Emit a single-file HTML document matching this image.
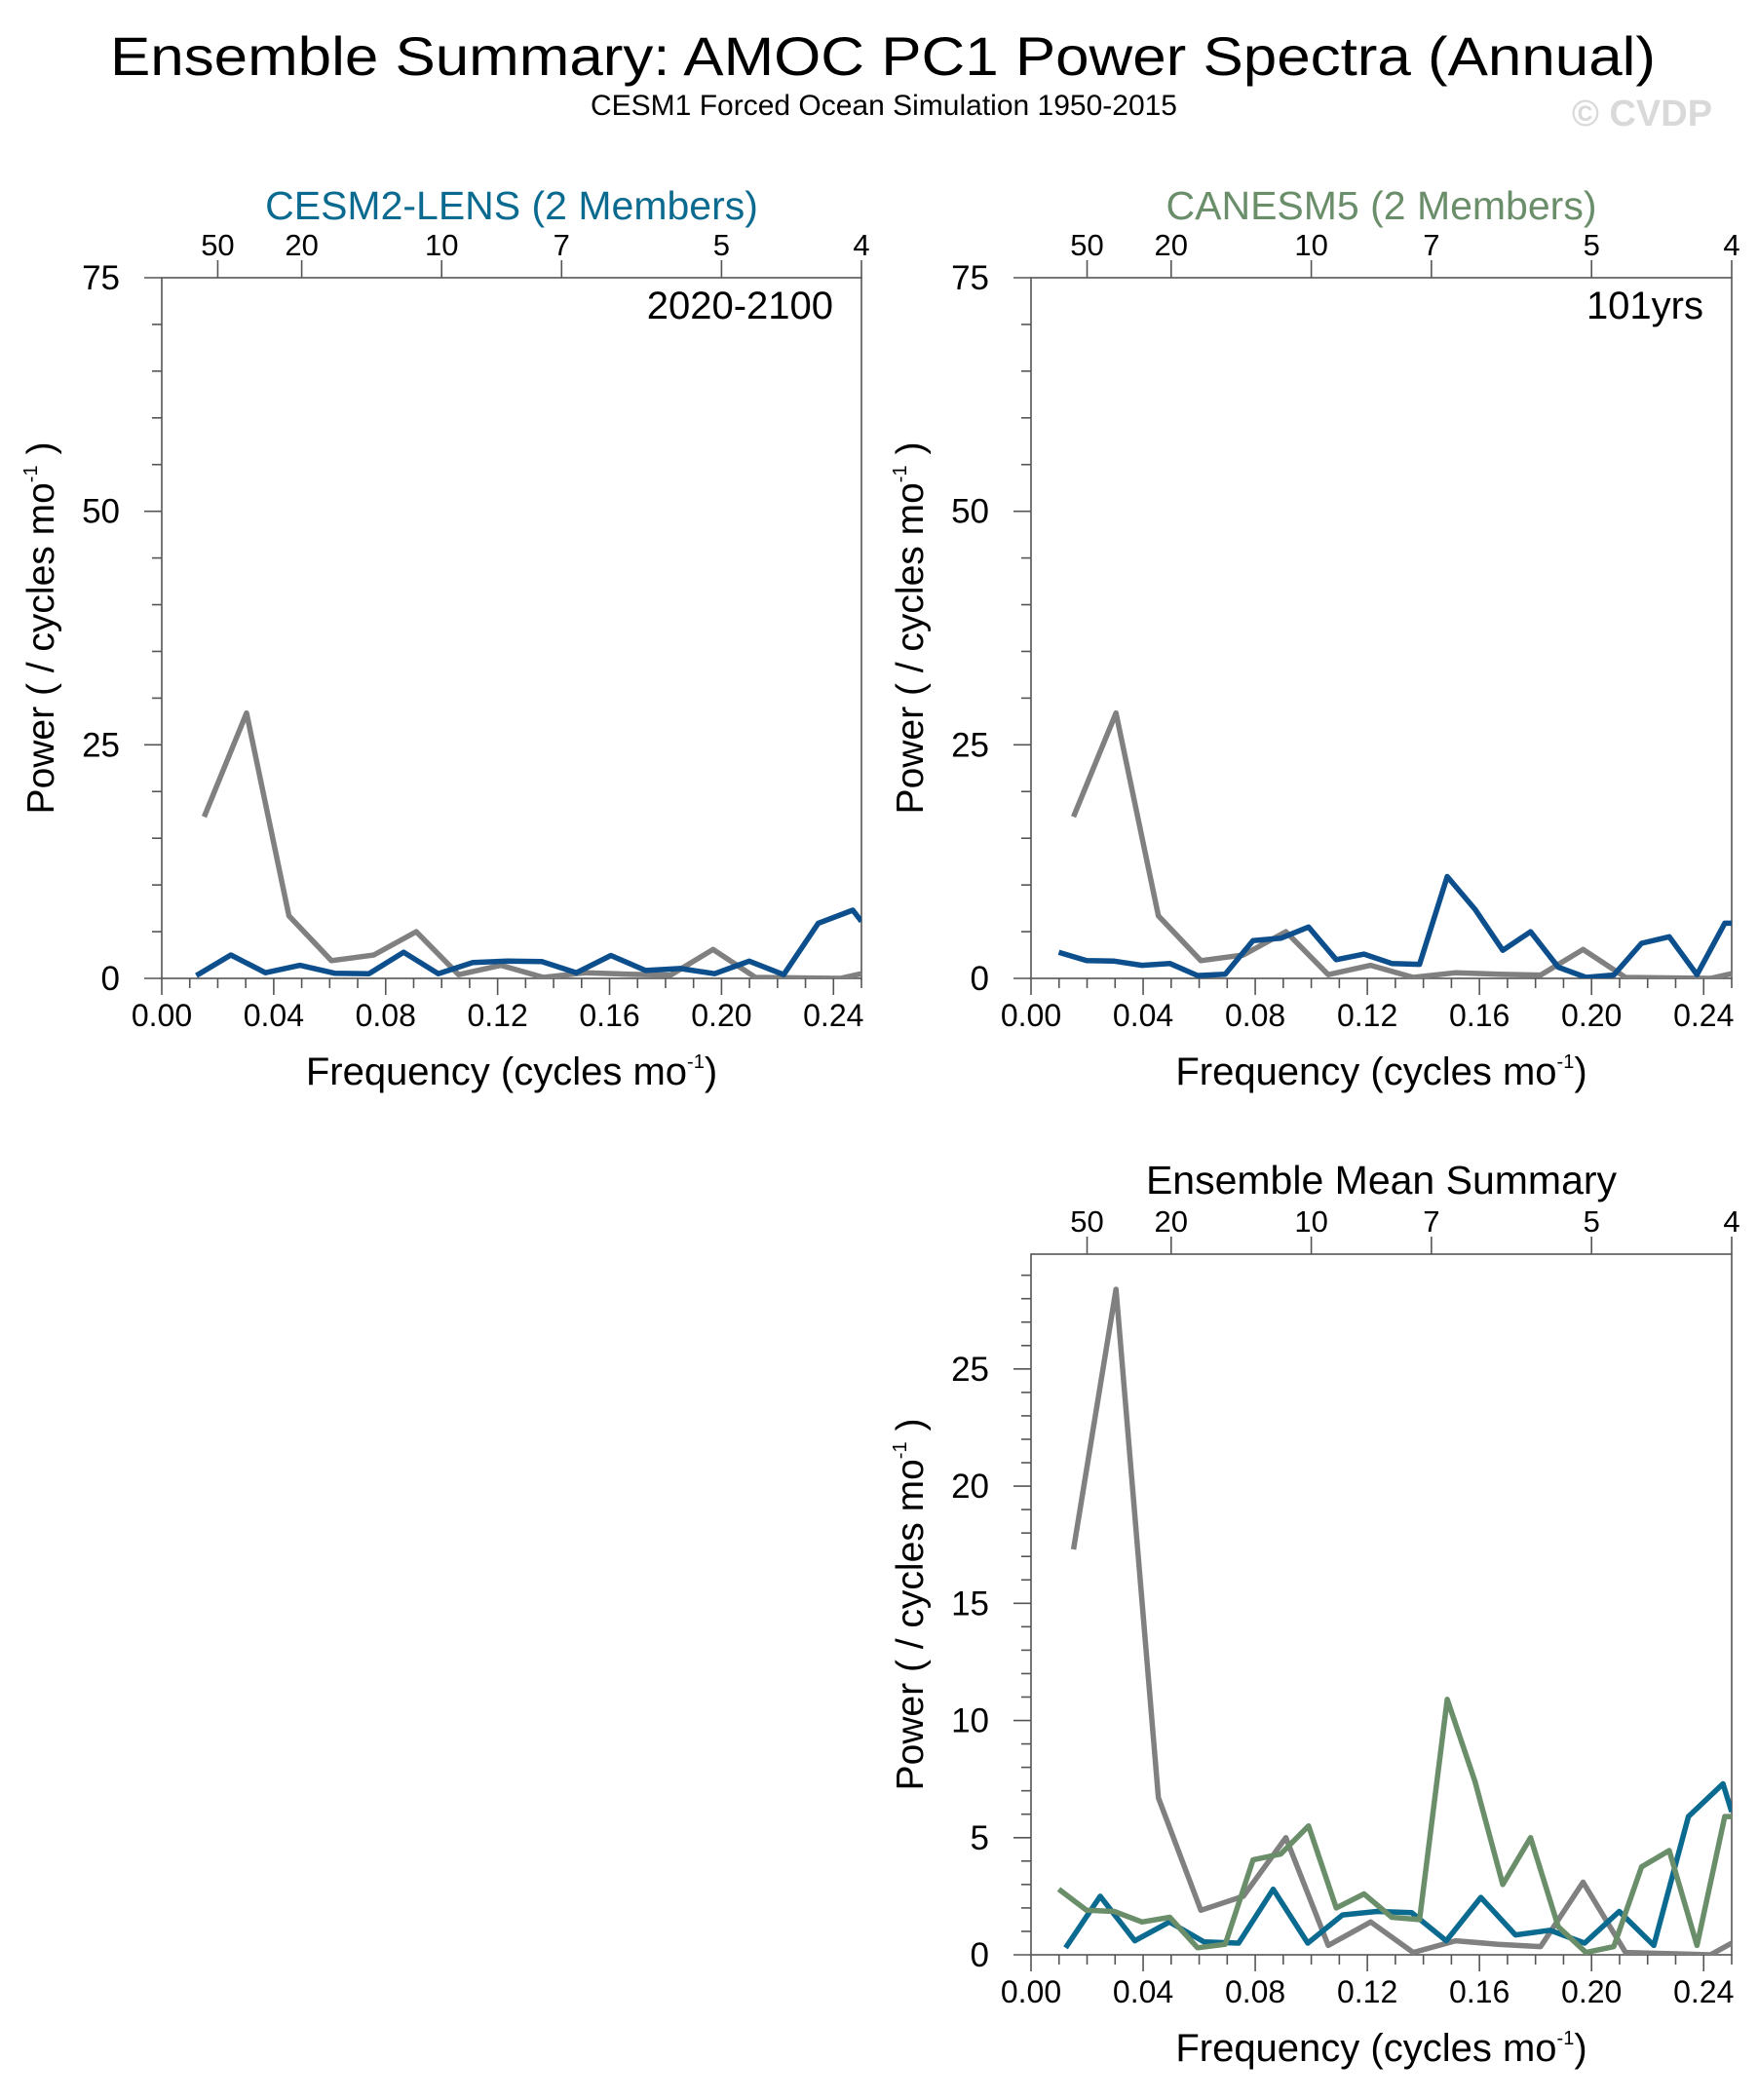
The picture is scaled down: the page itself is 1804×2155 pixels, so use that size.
<!DOCTYPE html>
<html><head><meta charset="utf-8"><style>
html,body{margin:0;padding:0;background:#fff;}
svg{display:block;font-family:"Liberation Sans",sans-serif;}
</style></head><body>
<svg id="chart" width="1804" height="2155" viewBox="0 0 1804 2155" xmlns="http://www.w3.org/2000/svg">
<text x="906" y="77" font-size="56" text-anchor="middle" textLength="1586" lengthAdjust="spacingAndGlyphs">Ensemble Summary: AMOC PC1 Power Spectra (Annual)</text>
<text x="907" y="118" font-size="30" text-anchor="middle">CESM1 Forced Ocean Simulation 1950-2015</text>
<text x="1685" y="129" font-size="38" font-weight="bold" fill="#d9d9d9" text-anchor="middle">© CVDP</text>
</svg>
<script>
// x-axis data
const xTicks = [0, 0.04, 0.08, 0.12, 0.16, 0.20, 0.24];
const xTickLabels = ["0.00","0.04","0.08","0.12","0.16","0.20","0.24"];
const periodTicks = [50, 20, 10, 7, 5, 4];
// CESM1 observation (gray), 66-yr spacing
const grayFreq = [1/66,2/66,3/66,4/66,5/66,6/66,7/66,8/66,9/66,10/66,11/66,12/66,13/66,14/66,15/66,16/66,0.25];
const grayPower = [17.3,28.4,6.7,1.9,2.5,5.0,0.4,1.4,0.1,0.6,0.45,0.35,3.1,0.1,0.05,0.0,0.5];
// CESM2-LENS ensemble mean, 81-yr spacing
const cesmFreq = [1/81,2/81,3/81,4/81,5/81,6/81,7/81,8/81,9/81,10/81,11/81,12/81,13/81,14/81,15/81,16/81,17/81,18/81,19/81,20/81,0.25];
const cesmPower = [0.3,2.5,0.6,1.4,0.55,0.5,2.8,0.5,1.7,1.85,1.8,0.6,2.45,0.85,1.05,0.5,1.85,0.4,5.9,7.3,6.1];
// CanESM5 ensemble mean, 101-yr spacing
const canFreq = [1/101,2/101,3/101,4/101,5/101,6/101,7/101,8/101,9/101,10/101,11/101,12/101,13/101,14/101,15/101,16/101,17/101,18/101,19/101,20/101,21/101,22/101,23/101,24/101,25/101,0.25];
const canPower = [2.8,1.9,1.85,1.4,1.6,0.3,0.45,4.05,4.3,5.5,2.0,2.6,1.6,1.5,10.9,7.4,3.0,5.0,1.2,0.1,0.35,3.75,4.45,0.4,5.9,5.9];
const yTicksA = [0,25,50,75];
const yTicksB = [0,5,10,15,20,25];

const NS = "http://www.w3.org/2000/svg";
const svg = document.getElementById('chart');
function mk(tag, attrs, parent, txt){
  const e = document.createElementNS(NS, tag);
  for (const k in attrs) e.setAttribute(k, attrs[k]);
  if (txt !== undefined) e.textContent = txt;
  (parent||svg).appendChild(e); return e;
}
function panel(opt){
  const g = mk('g', {});
  
  
  const L=opt.x0, R=opt.x1, T=opt.y0, B=opt.y1;
  const sx = v => L + v/0.25*(R-L);
  const sy = v => B - v/opt.ymax*(B-T);
  const ax = {stroke:'#555','stroke-width':1.6,fill:'none'};
  const frame = mk('rect', Object.assign({x:L,y:T,width:R-L,height:B-T}, ax), g);
  
  
  for (let i=0;i<=25;i++){
    const v=i*0.01, x=sx(v), maj=(i%4===0);
    mk('line',{x1:x,y1:B,x2:x,y2:B+(maj?17:10),stroke:'#555','stroke-width':1.6},g);
  }
  xTicks.forEach((v,i)=>{
    const t = mk('text',{x:sx(v),y:B+49,'font-size':32,'text-anchor':'middle'},g,xTickLabels[i]);
    
    
  });
  periodTicks.forEach(p=>{
    const x = sx(1/p);
    mk('line',{x1:x,y1:T,x2:x,y2:T-18,stroke:'#555','stroke-width':1.6},g);
    const t = mk('text',{x:x,y:T-23,'font-size':31,'text-anchor':'middle'},g,String(p));
    
    
  });
  for (let v=0; v<=opt.ymax+1e-9; v+=opt.minor){
    const maj = opt.yticks.some(t=>Math.abs(t-v)<1e-6);
    const y = sy(v);
    mk('line',{x1:L,y1:y,x2:L-(maj?18:10),y2:y,stroke:'#555','stroke-width':1.6},g);
  }
  opt.yticks.forEach(v=>{
    const t = mk('text',{x:L-43,y:sy(v)+12,'font-size':35,'text-anchor':'end'},g,String(v));
    
    
  });
  const tt = mk('text',{x:(L+R)/2,y:opt.titleY,'font-size':41,'text-anchor':'middle',fill:opt.titleColor},g,opt.title);
  
  
  const xt = mk('text',{x:(L+R)/2,y:B+109,'font-size':40,'text-anchor':'middle'},g);
  
  
  xt.innerHTML = 'Frequency (cycles mo<tspan dy="-17" font-size="20">-1</tspan><tspan dy="17">)</tspan>';
  const cy=(T+B)/2, cx=L-111;
  const yt = mk('text',{x:cx,y:cy,'font-size':39,'text-anchor':'middle',transform:`rotate(-90 ${cx} ${cy})`},g);
  
  
  yt.innerHTML = 'Power ( / cycles mo<tspan dy="-17" font-size="20">-1</tspan><tspan dy="17"> )</tspan>';
  if (opt.label){
    const lt = mk('text',{x:R-29,y:T+42,'font-size':40,'text-anchor':'end'},g,opt.label);
    
    
  }
  const cp = mk('clipPath',{id:opt.name+'-clip'},g);
  mk('rect',{x:L,y:T,width:R-L,height:B-T},cp);
  opt.series.forEach(s=>{
    const pts = s.f.map((f,i)=>sx(f).toFixed(1)+','+sy(s.p[i]).toFixed(1)).join(' ');
    const pl = mk('polyline',{points:pts,fill:'none',stroke:s.c,'stroke-width':5.5,'stroke-linejoin':'round','clip-path':`url(#${opt.name}-clip)`},g);
    
    
  });
}
panel({name:'cesm2-lens-panel',x0:166,x1:884,y0:285,y1:1004,ymax:75,yticks:yTicksA,minor:5,
  title:'CESM2-LENS (2 Members)',titleColor:'#0b6a8f',titleY:225,label:'2020-2100',
  series:[{f:grayFreq,p:grayPower,c:'#808080',n:'observed-spectrum-line'},{f:cesmFreq,p:cesmPower,c:'#0c4f8c',n:'cesm2-spectrum-line'}]});
panel({name:'canesm5-panel',x0:1058,x1:1777,y0:285,y1:1004,ymax:75,yticks:yTicksA,minor:5,
  title:'CANESM5 (2 Members)',titleColor:'#6a8e6a',titleY:225,label:'101yrs',
  series:[{f:grayFreq,p:grayPower,c:'#808080',n:'observed-spectrum-line'},{f:canFreq,p:canPower,c:'#0c4f8c',n:'canesm5-spectrum-line'}]});
panel({name:'ensemble-mean-panel',x0:1058,x1:1777,y0:1287,y1:2006,ymax:29.9,yticks:yTicksB,minor:1,
  title:'Ensemble Mean Summary',titleColor:'#000',titleY:1225,label:null,
  series:[{f:grayFreq,p:grayPower,c:'#808080',n:'observed-spectrum-line'},{f:cesmFreq,p:cesmPower,c:'#0b6a8f',n:'cesm2-mean-line'},{f:canFreq,p:canPower,c:'#6a8e6a',n:'canesm5-mean-line'}]});
</script>
</body></html>
